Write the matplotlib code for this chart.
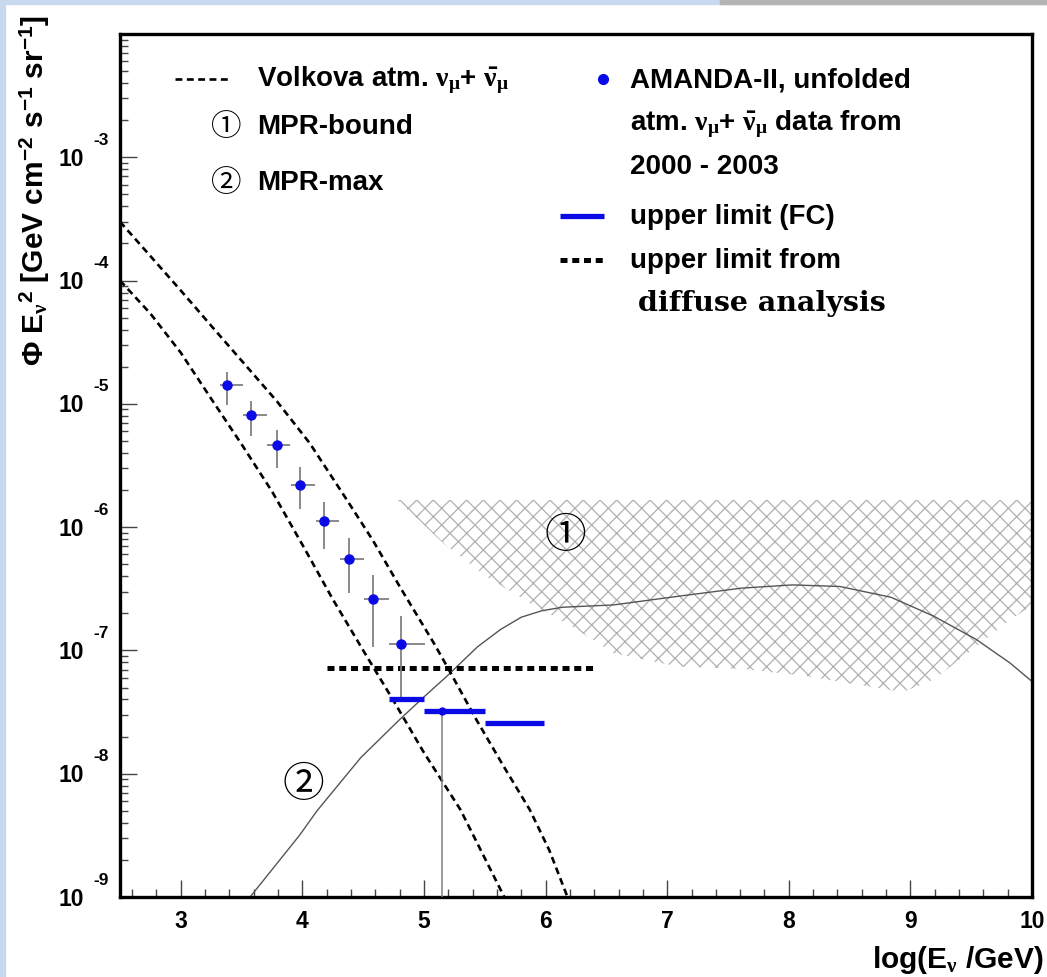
import numpy as np
import matplotlib
matplotlib.use("Agg")
import matplotlib.pyplot as plt
import matplotlib.transforms as mtransforms
from matplotlib.patches import Rectangle

plt.rcParams['font.family'] = ['Liberation Sans', 'DejaVu Sans', 'Noto Sans CJK SC']
plt.rcParams['font.weight'] = 'bold'
plt.rcParams['mathtext.fontset'] = 'custom'
plt.rcParams['mathtext.rm'] = 'Liberation Sans:bold'
plt.rcParams['mathtext.bf'] = 'Liberation Sans:bold'
plt.rcParams['mathtext.it'] = 'Liberation Serif'
plt.rcParams['hatch.linewidth'] = 0.9

# ---------------- data ----------------
# Volkova atmospheric nu_mu + anti-nu_mu (two dashed curves)
volkova_hi_x = [2.5, 2.75, 3.0, 3.25, 3.5, 3.79, 4.06, 4.34, 4.58, 4.80, 5.08, 5.19, 5.43,
                5.65, 5.87, 6.03, 6.18]
volkova_hi_y = [3.0e-4, 1.58e-4, 8.3e-5, 4.3e-5, 2.24e-5, 1.05e-5, 4.8e-6, 1.82e-6, 7.8e-7,
                3.3e-7, 1.15e-7, 7.4e-8, 2.75e-8, 1.17e-8, 5.1e-9, 2.4e-9, 1.0e-9]
volkova_lo_x = [2.5, 2.75, 3.0, 3.25, 3.5, 3.75, 4.0, 4.25, 4.5, 4.75, 5.0, 5.3, 5.66]
volkova_lo_y = [1.0e-4, 5.4e-5, 2.6e-5, 1.1e-5, 4.7e-6, 1.95e-6, 7.2e-7, 2.6e-7, 1.0e-7,
                3.9e-8, 1.48e-8, 5.1e-9, 1.0e-9]

# MPR-max (solid curve)
mpr_max_x = [3.57, 3.98, 4.12, 4.48, 4.80, 5.0, 5.19, 5.44, 5.63, 5.80, 5.97, 6.14, 6.56,
             7.09, 7.61, 8.03, 8.42, 8.84, 9.19, 9.54, 9.82, 10.0]
mpr_max_y = [1.0e-9, 3.2e-9, 5.0e-9, 1.35e-8, 2.75e-8, 4.2e-8, 6.2e-8, 1.07e-7, 1.48e-7,
             1.86e-7, 2.1e-7, 2.24e-7, 2.34e-7, 2.75e-7, 3.2e-7, 3.4e-7, 3.3e-7, 2.7e-7,
             1.9e-7, 1.23e-7, 7.9e-8, 5.6e-8]

# MPR-bound (hatched region): flat top, lower boundary
mpr_bound_top = 1.66e-6
mpr_bound_x = [4.78, 5.16, 5.51, 5.86, 6.21, 6.56, 7.09, 7.61, 8.14, 8.66, 8.94, 9.19, 9.54, 9.82, 10.0]
mpr_bound_lo = [1.66e-6, 7.4e-7, 4.0e-7, 2.45e-7, 1.58e-7, 9.5e-8, 7.4e-8, 7.1e-8, 6.2e-8,
                5.1e-8, 4.6e-8, 5.8e-8, 1.07e-7, 1.78e-7, 2.3e-7]

# AMANDA-II unfolded data
amanda_x = [3.38, 3.58, 3.79, 3.98, 4.18, 4.38, 4.58, 4.81]
amanda_y = [1.41e-5, 8.1e-6, 4.6e-6, 2.2e-6, 1.12e-6, 5.5e-7, 2.6e-7, 1.12e-7]
amanda_y_hi = [1.82e-5, 1.06e-5, 6.1e-6, 3.05e-6, 1.59e-6, 8.2e-7, 4.1e-7, 1.92e-7]
amanda_y_lo = [9.8e-6, 5.5e-6, 3.0e-6, 1.41e-6, 6.7e-7, 2.9e-7, 1.07e-7, 4.0e-8]
amanda_bin_lo = [3.32, 3.51, 3.71, 3.91, 4.11, 4.31, 4.51, 4.71]
amanda_bin_hi = [3.51, 3.71, 3.90, 4.10, 4.30, 4.51, 4.71, 5.01]

# point at highest energy bin with error reaching bottom
extra_x = [5.15]
extra_y = [3.24e-8]
extra_y_lo = [1.0e-9]

# upper limits (Feldman-Cousins)
fc_lo = [4.71, 5.00, 5.50]
fc_hi = [5.00, 5.50, 5.99]
fc_y = [4.0e-8, 3.24e-8, 2.6e-8]

# upper limit from diffuse analysis
diffuse_x = [4.2, 6.4]
diffuse_y = 7.2e-8

# circled labels
label1_pos = (6.16, 8.7e-7)
label2_pos = (4.01, 8.2e-9)

# ---------------- figure ----------------
W, H = 1047, 978
fig = plt.figure(figsize=(W / 100, H / 100), dpi=100)
fig.patch.set_facecolor('white')
# slide background edges
fig.patches.append(Rectangle((0, 0), 5 / W, 1, transform=fig.transFigure,
                             color='#c8d8ee', zorder=-10))
fig.patches.append(Rectangle((0, 1 - 5 / H), 1, 5 / H, transform=fig.transFigure,
                             color='#c8d8ee', zorder=-10))
fig.patches.append(Rectangle((720 / W, 1 - 5 / H), 1 - 720 / W, 5 / H, transform=fig.transFigure,
                             color='#b4b4b4', zorder=-9))

L, R, T, B = 120, 1032, 35, 898
ax = fig.add_axes([L / W, 1 - B / H, (R - L) / W, (B - T) / H])
ax.set_xlim(2.5, 10)
ax.set_yscale('log')
ax.set_ylim(1e-9, 1e-2)

for s in ax.spines.values():
    s.set_linewidth(2.4)
    s.set_color('black')

ax.set_xticks(np.arange(3, 11, 1))
ax.set_xticks(np.arange(2.6, 10.0, 0.2), minor=True)
ax.tick_params(axis='both', which='both', direction='in', top=False, right=False,
               color='#444444', width=1.0)
ax.tick_params(axis='both', which='major', length=12)
ax.tick_params(axis='both', which='minor', length=6)
ax.tick_params(axis='x', which='major', labelsize=16.5, pad=9)
ax.yaxis.set_major_locator(matplotlib.ticker.LogLocator(base=10, numticks=20))
ax.yaxis.set_minor_locator(matplotlib.ticker.LogLocator(base=10, subs=np.arange(2, 10), numticks=20))
ax.yaxis.set_minor_formatter(matplotlib.ticker.NullFormatter())
ax.yaxis.set_major_formatter(matplotlib.ticker.NullFormatter())
ax.set_xticklabels([str(v) for v in range(3, 11)], fontweight='bold')

# manual ROOT-style y tick labels
blend = mtransforms.blended_transform_factory(ax.transAxes, ax.transData)
for e in range(-9, -2):
    t10 = blend + mtransforms.ScaledTranslation(-36 / 100, -1 / 100, fig.dpi_scale_trans)
    ax.text(0, 10.0 ** e, '10', transform=t10, ha='right', va='center',
            fontsize=16.5, fontweight='bold', clip_on=False)
    texp = blend + mtransforms.ScaledTranslation(-27 / 100, 18 / 100, fig.dpi_scale_trans)
    ax.text(0, 10.0 ** e, str(e), transform=texp, ha='left', va='center',
            fontsize=12.5, fontweight='bold', clip_on=False)

# hatched MPR-bound region
poly_x = [mpr_bound_x[0], mpr_bound_x[-1]] + mpr_bound_x[::-1]
poly_y = [mpr_bound_top, mpr_bound_top] + mpr_bound_lo[::-1]
ax.fill(poly_x, poly_y, facecolor='none', edgecolor='#b0b0b0', hatch='xx', linewidth=0, zorder=1)

# MPR-max curve
ax.plot(mpr_max_x, mpr_max_y, color='#555555', lw=1.0, zorder=2)

# Volkova curves
for xs, ys in [(volkova_hi_x, volkova_hi_y), (volkova_lo_x, volkova_lo_y)]:
    ax.plot(xs, ys, color='black', lw=1.9, dashes=(2.6, 1.7), zorder=3)

# diffuse upper limit
ax.plot(diffuse_x, [diffuse_y, diffuse_y], color='black', lw=3.6, dashes=(1.4, 0.95),
        solid_capstyle='butt', dash_capstyle='butt', zorder=4)

# AMANDA points with error bars
ax_x = np.array(amanda_x)
ax_y = np.array(amanda_y)
xerr = [ax_x - np.array(amanda_bin_lo), np.array(amanda_bin_hi) - ax_x]
yerr = [ax_y - np.array(amanda_y_lo), np.array(amanda_y_hi) - ax_y]
ax.errorbar(ax_x, ax_y, xerr=xerr, yerr=yerr, fmt='none', ecolor='#808080', elinewidth=1.3,
            capsize=0, zorder=5)
ex = np.array(extra_x)
ey = np.array(extra_y)
ax.errorbar(ex, ey, yerr=[ey - np.array(extra_y_lo), np.zeros_like(ey)], fmt='none',
            ecolor='#808080', elinewidth=1.1, capsize=0, zorder=5)

# FC upper limits
ax.hlines(fc_y, fc_lo, fc_hi, colors='#0a0ae6', lw=3.8, zorder=6)
ax.plot(ax_x, ax_y, 'o', color='#0a0ae6', ms=6.5, zorder=7)
ax.plot(ex, ey, 'o', color='#0a0ae6', ms=5, zorder=7)

# circled labels in plot
circ_fam = ['DejaVu Serif', 'Noto Sans CJK SC']
ax.text(label1_pos[0], label1_pos[1], '\u2460', fontsize=30, ha='center', va='center',
        family=circ_fam, fontweight='normal', zorder=8)
ax.text(label2_pos[0], label2_pos[1], '\u2461', fontsize=30, ha='center', va='center',
        family=circ_fam, fontweight='normal', zorder=8)

# ---------------- legend (hand-placed, ROOT style) ----------------
def fx(px):
    return (px - L) / (R - L)

def fy(py):
    return (B - py) / (B - T)

lfs = 20
# left block
ax.plot([fx(175), fx(230)], [fy(80), fy(80)], transform=ax.transAxes, color='black',
        lw=1.9, dashes=(2.6, 1.7), clip_on=False)
ax.text(fx(257), fy(80), r'Volkova atm. $\nu_{\mu}$+ $\bar{\nu}_{\mu}$', transform=ax.transAxes,
        fontsize=lfs, fontweight='bold', ha='left', va='center')
ax.text(fx(226), fy(127), '\u2460', transform=ax.transAxes, fontsize=22, family=circ_fam,
        fontweight='normal', ha='center', va='center')
ax.text(fx(257), fy(127), 'MPR-bound', transform=ax.transAxes, fontsize=lfs,
        fontweight='bold', ha='left', va='center')
ax.text(fx(226), fy(183), '\u2461', transform=ax.transAxes, fontsize=22, family=circ_fam,
        fontweight='normal', ha='center', va='center')
ax.text(fx(257), fy(183), 'MPR-max', transform=ax.transAxes, fontsize=lfs,
        fontweight='bold', ha='left', va='center')

# right block
ax.plot([fx(603)], [fy(80)], 'o', transform=ax.transAxes, color='#0a0ae6', ms=7, clip_on=False)
ax.text(fx(630), fy(80), 'AMANDA-II, unfolded', transform=ax.transAxes, fontsize=lfs,
        fontweight='bold', ha='left', va='center')
ax.text(fx(630), fy(124), r'atm. $\nu_{\mu}$+ $\bar{\nu}_{\mu}$ data from', transform=ax.transAxes,
        fontsize=lfs, fontweight='bold', ha='left', va='center')
ax.text(fx(630), fy(167), '2000 - 2003', transform=ax.transAxes, fontsize=lfs,
        fontweight='bold', ha='left', va='center')
ax.plot([fx(560), fx(604)], [fy(217), fy(217)], transform=ax.transAxes, color='#0a0ae6',
        lw=3.8, clip_on=False, solid_capstyle='butt')
ax.text(fx(630), fy(217), 'upper limit (FC)', transform=ax.transAxes, fontsize=lfs,
        fontweight='bold', ha='left', va='center')
ax.plot([fx(560), fx(604)], [fy(261), fy(261)], transform=ax.transAxes, color='black',
        lw=3.6, dashes=(1.4, 0.95), dash_capstyle='butt', clip_on=False)
ax.text(fx(630), fy(261), 'upper limit from', transform=ax.transAxes, fontsize=lfs,
        fontweight='bold', ha='left', va='center')
ax.text(fx(638), fy(304), 'diffuse analysis', transform=ax.transAxes, fontsize=20.5,
        family='DejaVu Serif', fontweight='bold', ha='left', va='center')

# axis titles
fig.text(35 / W, 1 - 15 / H,
         r'$\Phi$ E$_{\nu}$$^{2}$ [GeV cm$^{-2}$ s$^{-1}$ sr$^{-1}$]',
         rotation=90, ha='center', va='top', fontsize=21.5, fontweight='bold')
fig.text(1044 / W, 1 - 960 / H, r'log(E$_{\nu}$ /GeV)', ha='right', va='center',
         fontsize=21.5, fontweight='bold')

fig.savefig('out.png', dpi=100, facecolor=fig.get_facecolor())
